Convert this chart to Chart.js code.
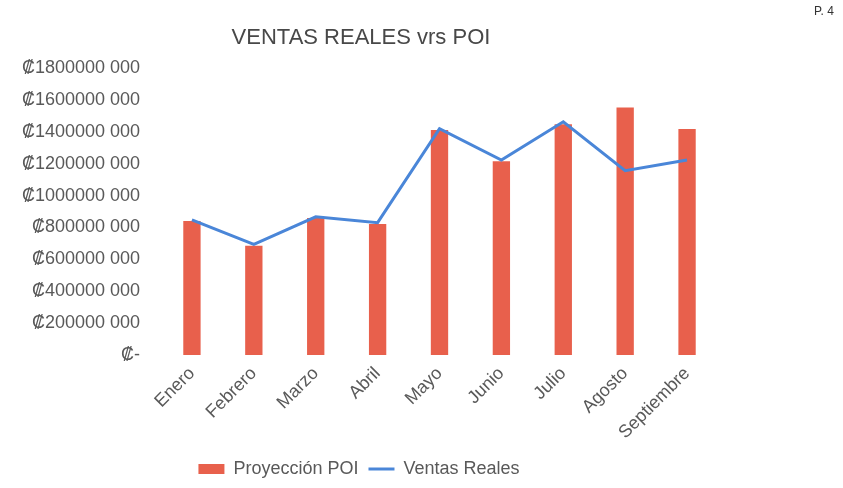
<!DOCTYPE html>
<html>
<head>
<meta charset="utf-8">
<script src="https://cdn.jsdelivr.net/npm/chart.js@4.4.0/dist/chart.umd.min.js"></script>
<style>
    html, body { margin: 0; padding: 0; background: #fff; }
    #wrap { position: relative; width: 843px; height: 488px; }
    #titulo {
        position: absolute; left: 0; top: 24px; width: 722px; text-align: center;
        font-family: "Liberation Sans", Arial, sans-serif; font-size: 22px; color: #484848;
    }
    #pagina {
        position: absolute; left: 814px; top: 4px;
        font-family: "Liberation Sans", Arial, sans-serif; font-size: 12px; color: #333;
    }
</style>
</head>
<body>
<div id="wrap">
    <canvas id="myChart" width="843" height="488"></canvas>
    <div id="titulo">VENTAS REALES vrs POI</div>
    <div id="pagina">P. 4</div>
</div>
<script>
const meses = ['Enero', 'Febrero', 'Marzo', 'Abril', 'Mayo', 'Junio', 'Julio', 'Agosto', 'Septiembre'];
const proyeccionPOI = [840000000, 685000000, 860000000, 822000000, 1411000000, 1215000000, 1447000000, 1553000000, 1417000000];
const ventasReales = [847000000, 694000000, 867000000, 830000000, 1419000000, 1223000000, 1463000000, 1156000000, 1223000000];

const fuente = '"Liberation Sans", Arial, sans-serif';
const gris = '#595959';

// formato "₡1800000 000", el cero como "₡-"
const formatoColones = (value) => {
    if (value === 0) return '\u20A1-';
    const s = String(value);
    return '\u20A1' + s.slice(0, -3) + ' ' + s.slice(-3);
};

const ctx = document.getElementById('myChart');
new Chart(ctx, {
    type: 'bar',
    data: {
        labels: meses,
        datasets: [
            {
                type: 'bar',
                label: 'Proyección POI',
                data: proyeccionPOI,
                backgroundColor: '#E8604C',
                barPercentage: 0.28,
                categoryPercentage: 1,
                pointStyle: 'rect',
                order: 2
            },
            {
                type: 'line',
                label: 'Ventas Reales',
                data: ventasReales,
                borderColor: '#4A86D8',
                backgroundColor: '#4A86D8',
                borderWidth: 3,
                pointRadius: 0,
                tension: 0,
                fill: false,
                pointStyle: 'line',
                order: 1
            }
        ]
    },
    options: {
        responsive: false,
        animation: false,
        layout: {
            padding: { top: 68, right: 125, left: 0, bottom: 0 }
        },
        plugins: {
            title: { display: false },
            tooltip: { enabled: false },
            legend: {
                position: 'bottom',
                labels: {
                    usePointStyle: true,
                    pointStyleWidth: 26,
                    boxHeight: 10,
                    padding: 10,
                    color: gris,
                    font: { family: fuente, size: 18 },
                    sort: (a, b) => a.datasetIndex - b.datasetIndex
                }
            }
        },
        scales: {
            x: {
                grid: { display: false, drawTicks: false },
                border: { display: false },
                ticks: {
                    minRotation: 45,
                    maxRotation: 45,
                    padding: 8,
                    color: gris,
                    font: { family: fuente, size: 18 }
                },
                afterFit: (scale) => { scale.height = 95; }
            },
            y: {
                min: 0,
                max: 1800000000,
                grid: { display: false, drawTicks: false },
                border: { display: false },
                ticks: {
                    stepSize: 200000000,
                    padding: 21,
                    color: gris,
                    font: { family: fuente, size: 18 },
                    callback: formatoColones
                },
                afterFit: (scale) => { scale.width = 161; }
            }
        }
    }
});
</script>
</body>
</html>
